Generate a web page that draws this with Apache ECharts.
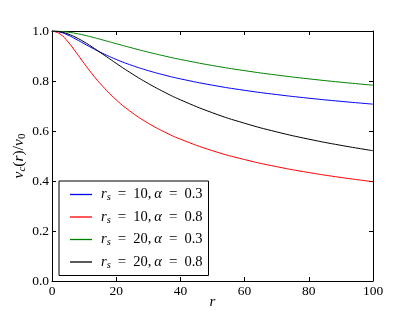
<!DOCTYPE html>
<html><head><meta charset="utf-8">
<script src="https://cdn.jsdelivr.net/npm/echarts@6/dist/echarts.min.js"></script>
<style>html,body{margin:0;padding:0;background:#fff}#c{width:415px;height:312px}</style>
</head><body><div id="c"></div>
<script>
const rValues = [0, 2.5, 5, 7.5, 10, 12.5, 15, 20, 25, 30, 35, 40, 50, 60, 70, 80, 90, 100];
const rs10a03 = [1, 0.9955, 0.9834, 0.9671, 0.9493, 0.9319, 0.9154, 0.8863, 0.8619, 0.8414, 0.8238, 0.8086, 0.7832, 0.7627, 0.7457, 0.7312, 0.7186, 0.7074];
const rs10a08 = [1, 0.9880, 0.9564, 0.9146, 0.8706, 0.8284, 0.7900, 0.7248, 0.6729, 0.6310, 0.5964, 0.5674, 0.5212, 0.4857, 0.4573, 0.4339, 0.4142, 0.3973];
const rs20a03 = [1, 0.9988, 0.9955, 0.9902, 0.9834, 0.9756, 0.9671, 0.9493, 0.9319, 0.9154, 0.9002, 0.8863, 0.8619, 0.8414, 0.8238, 0.8086, 0.7952, 0.7832];
const rs20a08 = [1, 0.9969, 0.9880, 0.9740, 0.9564, 0.9362, 0.9146, 0.8706, 0.8284, 0.7900, 0.7555, 0.7248, 0.6729, 0.6310, 0.5964, 0.5674, 0.5427, 0.5212];
const seriesNames = ['rs=10,a=0.3', 'rs=10,a=0.8', 'rs=20,a=0.3', 'rs=20,a=0.8'];
const legendLabels = [
  '{i|r}{sub|s}{eq|=}{n|10,}{a|α}{eq|=}{n|0.3}',
  '{i|r}{sub|s}{eq|=}{n|10,}{a|α}{eq|=}{n|0.8}',
  '{i|r}{sub|s}{eq|=}{n|20,}{a|α}{eq|=}{n|0.3}',
  '{i|r}{sub|s}{eq|=}{n|20,}{a|α}{eq|=}{n|0.8}'
];
const seriesColors = ['#0000ff', '#ff0000', '#008000', '#000000'];
const allValues = [rs10a03, rs10a08, rs20a03, rs20a08];
const xTicks = [0, 20, 40, 60, 80, 100];
const yTicks = [0.0, 0.2, 0.4, 0.6, 0.8, 1.0];

const FONT = '"Liberation Serif", "DejaVu Serif", serif';
const chart = echarts.init(document.getElementById('c'), null, {renderer: 'canvas'});
const axisCommon = {
  axisLine: {show: true, onZero: false, lineStyle: {color: '#000', width: 1}},
  axisTick: {show: true, inside: true, length: 4, lineStyle: {color: '#000', width: 1}},
  splitLine: {show: false}
};
const labelMap = {};
legendLabels.forEach((l, i) => labelMap[seriesNames[i]] = l);
const option = {
  animation: false,
  backgroundColor: '#fff',
  grid: {left: 52, right: 42, top: 31, bottom: 31, containLabel: false, outerBoundsMode: 'none'},
  xAxis: [
    Object.assign({
      type: 'value', min: 0, max: 100, interval: 20, position: 'bottom',
      name: '{i|r}', nameLocation: 'middle', nameGap: 14, nameMoveOverlap: false,
      nameTextStyle: {rich: {i: {fontFamily: FONT, fontStyle: 'italic', fontSize: 15, color: '#000'}}},
      axisLabel: {fontFamily: FONT, fontSize: 13.5, color: '#000', margin: 3, formatter: v => xTicks.includes(v) ? String(v) : ''}
    }, axisCommon),
    Object.assign({type: 'value', min: 0, max: 100, interval: 20, position: 'top', axisLabel: {show: false}}, axisCommon)
  ],
  yAxis: [
    Object.assign({
      type: 'value', min: 0, max: 1, interval: 0.2, position: 'left',
      name: '{i|v}{sub|c}{n|(}{i|r}{n|)/}{i|v}{sub0|0}', nameLocation: 'middle', nameGap: 24, nameRotate: 90, nameMoveOverlap: false,
      nameTextStyle: {rich: {
        i: {fontFamily: FONT, fontStyle: 'italic', fontSize: 15.5, color: '#000'},
        n: {fontFamily: FONT, fontSize: 15.5, color: '#000'},
        sub: {fontFamily: FONT, fontStyle: 'italic', fontSize: 11, color: '#000', padding: [7, 0, 0, 0]},
        sub0: {fontFamily: FONT, fontSize: 11, color: '#000', padding: [7, 0, 0, 0]}
      }},
      axisLabel: {fontFamily: FONT, fontSize: 13.5, color: '#000', margin: 3,
        formatter: v => v.toFixed(1)}
    }, axisCommon),
    Object.assign({type: 'value', min: 0, max: 1, interval: 0.2, position: 'right', axisLabel: {show: false}}, axisCommon)
  ],
  legend: {
    orient: 'vertical', left: 59, top: 181,
    backgroundColor: '#fff', borderColor: '#000', borderWidth: 1, borderRadius: 0,
    padding: [6, 6, 5, 11], itemGap: 6.5,
    itemWidth: 22, itemHeight: 15, icon: 'path://M0,7L22,7L22,8.3L0,8.3Z',
    data: seriesNames,
    formatter: name => labelMap[name],
    textStyle: {padding: [0, 0, 0, 4], rich: {
      i: {fontFamily: FONT, fontStyle: 'italic', fontSize: 14.5, color: '#000'},
      a: {fontFamily: FONT, fontStyle: 'italic', fontSize: 14.5, color: '#000', padding: [0, 0, 0, 3]},
      n: {fontFamily: FONT, fontSize: 14.5, color: '#000'},
      eq: {fontFamily: FONT, fontSize: 15, color: '#000', padding: [0, 7, 0, 7]},
      sub: {fontFamily: FONT, fontStyle: 'italic', fontSize: 10.5, color: '#000', padding: [6, 0, 0, 0]}
    }}
  },
  series: seriesNames.map((n, i) => ({
    name: n, type: 'line', smooth: true, symbol: 'none',
    lineStyle: {color: seriesColors[i], width: 1},
    itemStyle: {color: seriesColors[i]},
    data: rValues.map((r, j) => [r, allValues[i][j]])
  }))
};
chart.setOption(option);
</script></body></html>
